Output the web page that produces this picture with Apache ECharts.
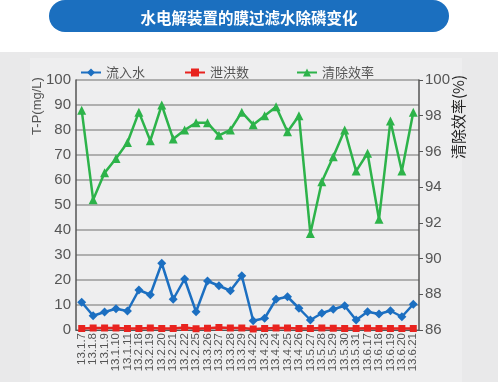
<!DOCTYPE html>
<html><head><meta charset="utf-8">
<script src="https://cdn.jsdelivr.net/npm/echarts@6/dist/echarts.min.js"></script>
<style>html,body{margin:0;padding:0;background:#fff}#c{width:498px;height:382px}</style>
</head><body><div id="c"></div>
<script>
const categories = ['13.1.7','13.1.8','13.1.9','13.1.10','13.1.11','13.2.18','13.2.19','13.2.20','13.2.21','13.2.22','13.2.25','13.3.26','13.3.27','13.3.28','13.3.29','13.4.22','13.4.23','13.4.24','13.4.25','13.4.26','13.5.27','13.5.28','13.5.29','13.5.30','13.5.31','13.6.17','13.6.18','13.6.19','13.6.20','13.6.21'];
const inflow = [11.1,5.7,7.2,8.5,7.6,16.0,14.1,26.7,12.3,20.4,7.3,19.6,17.7,15.7,21.7,3.7,4.7,12.3,13.3,8.7,4.0,6.7,8.3,9.7,4.0,7.3,6.4,7.7,5.3,10.3];
const discharge = [0.6,0.8,0.8,0.8,0.6,0.6,0.8,0.6,0.6,1.0,0.5,0.7,1.0,0.8,0.8,0.4,0.6,0.8,0.8,0.6,0.6,0.8,0.7,0.6,0.6,0.7,0.6,0.6,0.6,0.6];
const removal = [98.3,93.3,94.8,95.6,96.5,98.2,96.6,98.6,96.7,97.2,97.6,97.6,96.9,97.2,98.2,97.5,98.0,98.5,97.1,98.0,91.4,94.3,95.7,97.2,94.9,95.9,92.2,97.7,94.9,98.2];
const seriesNames = ['流入水','泄洪数','清除效率'];
const titleText = '水电解装置的膜过滤水除磷变化';
const leftName = 'T-P(mg/L)';
const rightName = '清除效率(%)';

const cjk = '"Noto Sans CJK SC", sans-serif';
const num = '"Liberation Sans Narrow", "Liberation Sans", Arial, sans-serif';
const legendText = {color:'#555', fontSize:13, fontFamily:cjk};
const chart = echarts.init(document.getElementById('c'), null, {renderer:'canvas'});
chart.setOption({
  animation:false,
  backgroundColor:'#fff',
  graphic:[
    {type:'rect', shape:{x:0,y:52,width:498,height:330}, style:{fill:'#e9e9ea'}, z:-10},
    {type:'rect', shape:{x:30,y:58,width:432,height:324}, style:{fill:'#eeeeef'}, z:-9},
    {type:'rect', shape:{x:49,y:0,width:400,height:32,r:16}, style:{fill:'#1b6fbf'}, z:-5},
    {type:'text', x:37, y:106, rotation:Math.PI/2, style:{text:leftName, fill:'#555', font:'13px ' + num, align:'center', verticalAlign:'middle'}},
    {type:'text', x:458, y:117, rotation:Math.PI/2, style:{text:rightName, fill:'#222', font:'15px ' + cjk, align:'center', verticalAlign:'middle'}}
  ],
  title:{text:titleText, left:'center', top:5, textStyle:{color:'#fff', fontSize:15.5, fontWeight:'bold', fontFamily:cjk}},
  legend:[
    {top:61, left:75, itemWidth:20, itemHeight:10, textStyle:legendText, data:[seriesNames[0]]},
    {top:61, left:179, itemWidth:20, itemHeight:10, textStyle:legendText, data:[seriesNames[1]]},
    {top:61, left:291, itemWidth:20, itemHeight:10, textStyle:legendText, data:[seriesNames[2]]}
  ],
  grid:{left:76, right:79, top:80, bottom:52, outerBoundsMode:'none', containLabel:false},
  xAxis:{type:'category', data:categories, boundaryGap:true,
    axisLine:{lineStyle:{color:'#555', width:1}}, axisTick:{show:false},
    axisLabel:{rotate:90, interval:0, fontSize:11.5, color:'#555', fontFamily:num, margin:3}},
  yAxis:[
    {type:'value', min:0, max:100, interval:10,
      axisLine:{show:true, lineStyle:{color:'#555', width:1.5}}, axisTick:{show:false},
      axisLabel:{fontSize:15, color:'#555', fontFamily:num, margin:5},
      splitLine:{lineStyle:{color:'#9a9a9a', width:1.5}}},
    {type:'value', min:86, max:100, interval:2, position:'right',
      axisLine:{show:true, lineStyle:{color:'#555', width:1.5}}, axisTick:{show:true, length:4, lineStyle:{color:'#555'}},
      axisLabel:{fontSize:15, color:'#555', fontFamily:num, margin:6},
      splitLine:{show:false}}
  ],
  series:[
    {name:seriesNames[0], type:'line', yAxisIndex:0, data:inflow, symbol:'diamond', symbolSize:9,
      lineStyle:{color:'#1c6fc1', width:2.5}, itemStyle:{color:'#1c6fc1'}, z:3},
    {name:seriesNames[1], type:'line', yAxisIndex:0, data:discharge, symbol:'rect', symbolSize:7,
      lineStyle:{color:'#e8231f', width:2.5}, itemStyle:{color:'#e8231f'}, z:4},
    {name:seriesNames[2], type:'line', yAxisIndex:1, data:removal, symbol:'triangle', symbolSize:9,
      lineStyle:{color:'#2db34a', width:2.5}, itemStyle:{color:'#2db34a'}, z:2}
  ]
});
</script></body></html>
